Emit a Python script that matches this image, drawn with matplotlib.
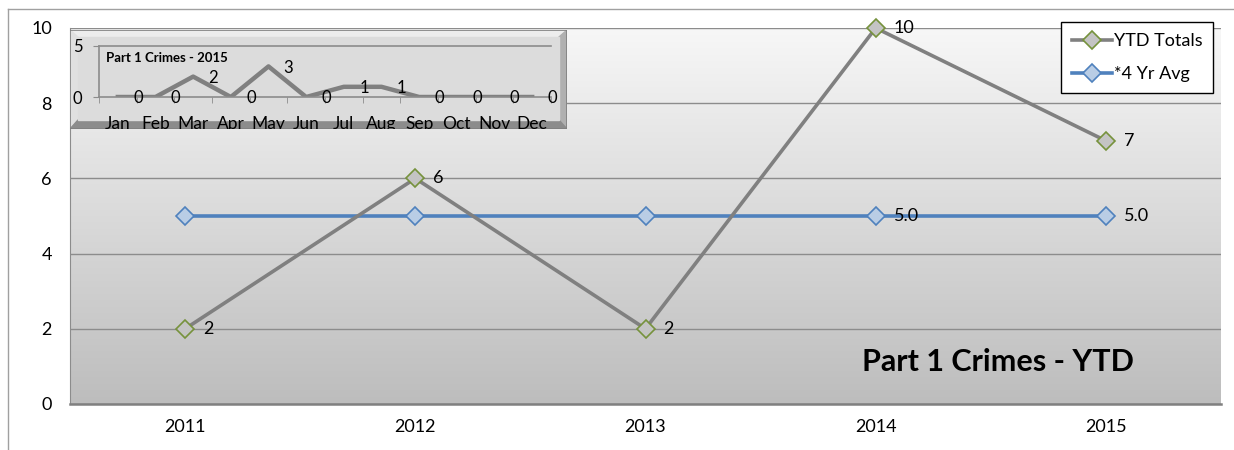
import numpy as np
import matplotlib
matplotlib.use("Agg")
import matplotlib.pyplot as plt
from matplotlib.colors import LinearSegmentedColormap
from matplotlib.patches import Polygon, Rectangle
from matplotlib.lines import Line2D

plt.rcParams['font.family'] = ['Lato', 'DejaVu Sans']

# data
years = ['2011', '2012', '2013', '2014', '2015']
ytd_totals = [2, 6, 2, 10, 7]
four_yr_avg = [5.0, 5.0, 5.0, 5.0, 5.0]
avg_labelled = [False, False, False, True, True]

months = ['Jan', 'Feb', 'Mar', 'Apr', 'May', 'Jun', 'Jul', 'Aug', 'Sep', 'Oct', 'Nov', 'Dec']
crimes_2015 = [0, 0, 2, 0, 3, 0, 1, 1, 0, 0, 0, 0]

W, H = 1234, 450
fig = plt.figure(figsize=(W / 100, H / 100), dpi=100)


def fbox(x0, y0, x1, y1):
    # pixel box (from top-left) -> figure fraction rect
    return [x0 / W, 1 - y1 / H, (x1 - x0) / W, (y1 - y0) / H]


# outer chart border (only left and top visible)
fig.add_artist(Line2D([8 / W, 8 / W], [0, 1 - 9 / H], transform=fig.transFigure, color='#a0a0a0', lw=1))
fig.add_artist(Line2D([8 / W, 1], [1 - 9 / H, 1 - 9 / H], transform=fig.transFigure, color='#a0a0a0', lw=1))

# ---- main chart
ax = fig.add_axes(fbox(70, 28, 1221, 404))
x = np.arange(len(years))
ax.set_xlim(-0.5, len(years) - 0.5)
ax.set_ylim(0, 10)

cmap = LinearSegmentedColormap.from_list('bg', ['#bdbdbd', '#f7f7f7'])
ax.imshow(np.linspace(0, 1, 256).reshape(-1, 1), extent=[-0.5, len(years) - 0.5, 0, 10],
          origin='lower', aspect='auto', cmap=cmap, zorder=0)
ax.set_yticks([0, 2, 4, 6, 8, 10])
ax.grid(axis='y', color='#8c8c8c', lw=1, zorder=1)
ax.set_xticks(x)
ax.set_xticklabels(years)
ax.tick_params(length=0, labelsize=13)
ax.tick_params(axis='y', pad=13)
ax.tick_params(axis='x', pad=11)
for s in ['top', 'right']:
    ax.spines[s].set_visible(False)
ax.spines['left'].set_color('#8c8c8c')
ax.spines['bottom'].set_color('#808080')
ax.spines['bottom'].set_linewidth(1.8)

ax.plot(x, four_yr_avg, color='#4f81bd', lw=2.6, marker='D', ms=9.5,
        mfc='#b9cde5', mec='#4f81bd', mew=1.2, zorder=3, label='*4 Yr Avg', clip_on=False)
ax.plot(x, ytd_totals, color='#808080', lw=2.6, marker='D', ms=9.5,
        mfc='#c4c4c4', mec='#76923c', mew=1.2, zorder=4, label='YTD Totals', clip_on=False)

for xi, v in zip(x, ytd_totals):
    ax.annotate(str(v), (xi, v), xytext=(13, 0), textcoords='offset points',
                va='center', ha='left', fontsize=13, zorder=5)
for xi, v, show in zip(x, four_yr_avg, avg_labelled):
    if show:
        ax.annotate(f'{v:.1f}', (xi, v), xytext=(13, 0), textcoords='offset points',
                    va='center', ha='left', fontsize=13, zorder=5)

ax.text(3.53, 1.12, 'Part 1 Crimes - YTD', fontsize=22, fontweight='bold', ha='center', va='center')

h, l = ax.get_legend_handles_labels()
leg = ax.legend(h[::-1], l[::-1], loc='upper right', bbox_to_anchor=(1213 / W, 1 - 22 / H),
                bbox_transform=fig.transFigure, fontsize=13, frameon=True, fancybox=False,
                edgecolor='black', framealpha=1, handlelength=2.2, handletextpad=0.1,
                labelspacing=0.95, borderpad=0.6, borderaxespad=0)
leg.get_frame().set_linewidth(1)

# ---- inset frame with bevel
fx0, fy0, fx1, fy1 = 70, 30, 567, 129
fr = fig.add_axes(fbox(fx0, fy0, fx1, fy1))
fw, fh = fx1 - fx0, fy1 - fy0
fr.set_xlim(0, fw)
fr.set_ylim(fh, 0)
fr.axis('off')
bl, bt, br, bb = 8, 7, 8, 9
fr.add_patch(Polygon([[0, 0], [fw, 0], [fw - br, bt], [bl, bt]], color='#ededed'))
fr.add_patch(Polygon([[0, 0], [bl, bt], [bl, fh - bb], [0, fh]], color='#e0e0e0'))
fr.add_patch(Polygon([[fw, 0], [fw, fh], [fw - br, fh - bb], [fw - br, bt]], color='#b0b0b0'))
fr.add_patch(Polygon([[0, fh], [fw, fh], [fw - br, fh - bb], [bl, fh - bb]], color='#8c8c8c'))
fr.add_patch(Rectangle((bl, bt), fw - bl - br, fh - bt - bb, color='#dcdcdc'))
clip_rect = Rectangle((0, 0), fw, fh, fill=False, ec='#7f7f7f', lw=1.2, transform=fr.transData)
fr.add_patch(clip_rect)

ins = fig.add_axes(fbox(99, 46, 551, 97))
ins.set_facecolor('none')
mx = np.arange(len(months))
ins.set_xlim(-0.5, len(months) - 0.5)
ins.set_ylim(0, 5)
ins.plot(mx, crimes_2015, color='#808080', lw=3.2)
for xi, v in zip(mx, crimes_2015):
    ins.annotate(str(v), (xi, v), xytext=(11, -1), textcoords='offset points',
                 va='center', ha='left', fontsize=12)
ins.set_yticks([0, 5])
ins.set_xticks(mx)
ins.set_xticklabels(months)
ins.set_xticks(np.arange(-0.5, len(months)), minor=True)
ins.tick_params(axis='x', which='major', length=0, labelsize=12.5, pad=14)
ins.tick_params(axis='x', which='minor', length=4, color='#8c8c8c', direction='out')
ins.tick_params(axis='y', length=4, color='#8c8c8c', labelsize=12, pad=8)
for s in ['right']:
    ins.spines[s].set_visible(False)
for s in ['top', 'left', 'bottom']:
    ins.spines[s].set_color('#8c8c8c')
    ins.spines[s].set_linewidth(1.2)
ins.text(0.015, 0.76, 'Part 1 Crimes - 2015', transform=ins.transAxes, fontsize=9.5,
         fontweight='bold', ha='left', va='center')
for t in ins.get_xticklabels():
    t.set_clip_path(clip_rect)

fig.savefig('out.png', dpi=100)
